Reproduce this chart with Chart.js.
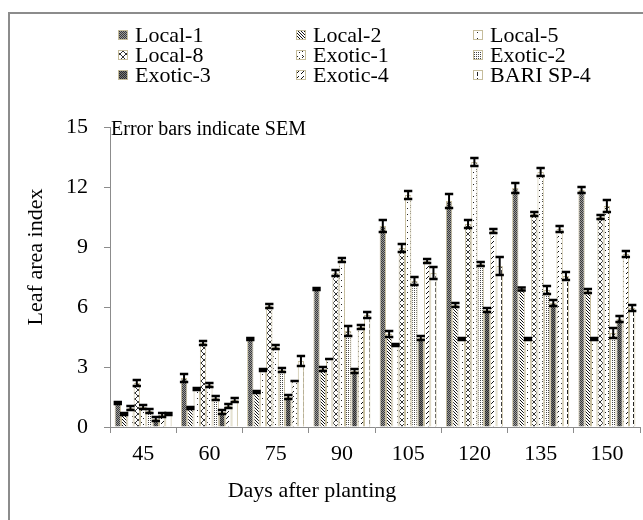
<!DOCTYPE html>
<html>
<head>
<meta charset="utf-8">
<script src="https://cdn.jsdelivr.net/npm/chart.js@4.4.0/dist/chart.umd.min.js"></script>
<style>
  html, body { margin: 0; padding: 0; background: #fff; }
  #wrap { width: 643px; height: 520px; }
</style>
</head>
<body>
<div id="wrap"><canvas id="laiChart" width="643" height="520"></canvas></div>
<script>
const days = ['45', '60', '75', '90', '105', '120', '135', '150'];
const yTicks = [0, 3, 6, 9, 12, 15];
const seriesNames = ['Local-1', 'Local-2', 'Local-5', 'Local-8', 'Exotic-1', 'Exotic-2', 'Exotic-3', 'Exotic-4', 'BARI SP-4'];

// leaf area index
const local1 = [1.2, 2.45, 4.4, 6.9, 10.05, 11.3, 11.95, 11.85];
const local2 = [0.65, 0.95, 1.75, 2.9, 4.65, 6.1, 6.9, 6.8];
const local5 = [0.95, 1.9, 2.85, 3.4, 4.1, 4.4, 4.4, 4.4];
const local8 = [2.2, 4.2, 6.05, 7.7, 8.95, 10.15, 10.65, 10.5];
const exotic1 = [1.0, 2.1, 4.0, 8.35, 11.6, 13.25, 12.75, 11.05];
const exotic2 = [0.8, 1.45, 2.85, 4.8, 7.3, 8.15, 6.85, 4.7];
const exotic3 = [0.4, 0.75, 1.5, 2.8, 4.45, 5.85, 6.2, 5.4];
const exotic4 = [0.6, 1.05, 2.3, 5.0, 8.3, 9.8, 9.9, 8.65];
const bariSp4 = [0.65, 1.35, 3.3, 5.6, 7.7, 8.05, 7.55, 5.95];

// standard error of the mean
const local1Err = [0.05, 0.2, 0.05, 0.05, 0.3, 0.35, 0.25, 0.15];
const local2Err = [0.05, 0.05, 0.05, 0.1, 0.15, 0.1, 0.08, 0.1];
const local5Err = [0.1, 0.05, 0.05, 0, 0.05, 0.05, 0.05, 0.05];
const local8Err = [0.15, 0.1, 0.1, 0.15, 0.2, 0.2, 0.1, 0.1];
const exotic1Err = [0.1, 0.1, 0.1, 0.1, 0.2, 0.2, 0.2, 0.3];
const exotic2Err = [0.1, 0.1, 0.1, 0.25, 0.2, 0.1, 0.2, 0.25];
const exotic3Err = [0.1, 0.1, 0.1, 0.1, 0.1, 0.1, 0.15, 0.15];
const exotic4Err = [0.1, 0.1, 0, 0.1, 0.1, 0.1, 0.15, 0.15];
const bariSp4Err = [0.05, 0.1, 0.25, 0.15, 0.3, 0.45, 0.2, 0.15];

const serif = "'Liberation Serif', 'Times New Roman', serif";
const edge = '#c6bd9c';

// little tiles for the hatch fills
function tile(w, h, paint) {
  const c = document.createElement('canvas');
  c.width = w;
  c.height = h;
  const g = c.getContext('2d');
  g.fillStyle = '#fff';
  g.fillRect(0, 0, w, h);
  paint(g);
  return document.createElement('canvas').getContext('2d').createPattern(c, 'repeat');
}

function checker(dark, light) {
  return tile(2, 2, g => {
    g.fillStyle = light;
    g.fillRect(0, 0, 2, 2);
    g.fillStyle = dark;
    g.fillRect(0, 0, 1, 1);
    g.fillRect(1, 1, 1, 1);
  });
}

const fills = [
  checker('#3a3a3a', '#9a9a9a'),
  tile(3, 3, g => {
    g.fillStyle = '#111';
    for (let i = 0; i < 3; i++) g.fillRect(i, i, 1, 1);
  }),
  tile(5, 6, g => {
    g.fillStyle = '#222';
    g.fillRect(2, 2, 1, 1);
  }),
  tile(6, 6, g => {
    g.fillStyle = '#333';
    for (let i = 0; i < 6; i++) {
      g.fillRect(i, i, 1, 1);
      g.fillRect(5 - i, i, 1, 1);
    }
  }),
  tile(6, 6, g => {
    g.fillStyle = '#222';
    g.fillRect(2, 1, 1, 1);
    g.fillRect(3, 2, 1, 1);
    g.fillRect(2, 3, 1, 1);
    g.fillRect(5, 4, 1, 1);
  }),
  tile(2, 2, g => {
    g.fillStyle = '#444';
    g.fillRect(0, 0, 1, 1);
  }),
  checker('#2a2a2a', '#7a7a7a'),
  tile(5, 5, g => {
    g.fillStyle = '#111';
    g.fillRect(3, 1, 1, 1);
    g.fillRect(2, 2, 1, 1);
    g.fillRect(1, 3, 1, 1);
  }),
  tile(6, 6, g => {
    g.fillStyle = '#222';
    g.fillRect(3, 0, 1, 4);
  })
];

const values = [local1, local2, local5, local8, exotic1, exotic2, exotic3, exotic4, bariSp4];
const errors = [local1Err, local2Err, local5Err, local8Err, exotic1Err, exotic2Err, exotic3Err, exotic4Err, bariSp4Err];

const datasets = seriesNames.map((name, i) => ({
  label: name,
  data: values[i],
  err: errors[i],
  backgroundColor: fills[i],
  borderColor: edge,
  borderWidth: 1,
  categoryPercentage: 0.86,
  barPercentage: 1.0
}));

// frame, legend, titles and error bars
const decorations = {
  id: 'decorations',
  beforeDraw(chart) {
    const ctx = chart.ctx;
    ctx.save();
    ctx.strokeStyle = '#8c8c8c';
    ctx.lineWidth = 2;
    ctx.strokeRect(9, 13, 700, 600);
    ctx.restore();
  },
  afterDatasetsDraw(chart) {
    const ctx = chart.ctx;
    const yScale = chart.scales.y;
    ctx.save();
    ctx.strokeStyle = '#000';
    chart.data.datasets.forEach((ds, di) => {
      const meta = chart.getDatasetMeta(di);
      meta.data.forEach((bar, i) => {
        const v = ds.data[i];
        const e = ds.err[i];
        const top = yScale.getPixelForValue(v + e);
        const bottom = yScale.getPixelForValue(v - e);
        const half = bar.width / 2 + 1;
        ctx.lineWidth = 2;
        ctx.beginPath();
        ctx.moveTo(bar.x, top);
        ctx.lineTo(bar.x, bottom);
        ctx.stroke();
        ctx.lineWidth = 2.5;
        ctx.beginPath();
        ctx.moveTo(bar.x - half, top);
        ctx.lineTo(bar.x + half, top);
        ctx.moveTo(bar.x - half, bottom);
        ctx.lineTo(bar.x + half, bottom);
        ctx.stroke();
      });
    });
    ctx.restore();
  },
  afterDraw(chart) {
    const ctx = chart.ctx;
    ctx.save();
    ctx.font = '22px ' + serif;
    ctx.textBaseline = 'middle';
    ctx.fillStyle = '#000';
    const cols = [118, 296, 473];
    chart.data.datasets.forEach((ds, i) => {
      const x = cols[i % 3];
      const y = 35 + Math.floor(i / 3) * 20;
      ctx.fillStyle = ds.backgroundColor;
      ctx.fillRect(x, y - 5, 10, 10);
      ctx.strokeStyle = edge;
      ctx.lineWidth = 1;
      ctx.strokeRect(x + 0.5, y - 4.5, 9, 9);
      ctx.fillStyle = '#000';
      ctx.fillText(ds.label, x + 17, y + 1);
    });

    ctx.font = '20px ' + serif;
    ctx.textBaseline = 'alphabetic';
    ctx.fillText('Error bars indicate SEM', 111, 135);

    ctx.font = '22px ' + serif;
    ctx.textAlign = 'center';
    ctx.fillText('Days after planting', 312, 497);

    ctx.translate(42, 257);
    ctx.rotate(-Math.PI / 2);
    ctx.fillText('Leaf area index', 0, 0);
    ctx.restore();
  }
};

new Chart(document.getElementById('laiChart'), {
  type: 'bar',
  data: { labels: days, datasets: datasets },
  plugins: [decorations],
  options: {
    responsive: false,
    animation: false,
    layout: { padding: { top: 127, right: 3, left: 0, bottom: 0 } },
    plugins: {
      legend: { display: false },
      tooltip: { enabled: false }
    },
    scales: {
      x: {
        afterFit: s => { s.height = 93; },
        grid: { offset: true, drawOnChartArea: false, color: '#8c8c8c', tickLength: 6 },
        border: { color: '#8c8c8c' },
        ticks: { color: '#000', font: { family: serif, size: 22 }, padding: 8 }
      },
      y: {
        min: 0,
        max: 15,
        afterFit: s => { s.width = 110; },
        afterBuildTicks: s => { s.ticks = yTicks.map(v => ({ value: v })); },
        grid: { drawOnChartArea: false, color: '#8c8c8c', tickLength: 6 },
        border: { color: '#8c8c8c' },
        ticks: { color: '#000', font: { family: serif, size: 22 }, padding: 16 }
      }
    }
  }
});
</script>
</body>
</html>
